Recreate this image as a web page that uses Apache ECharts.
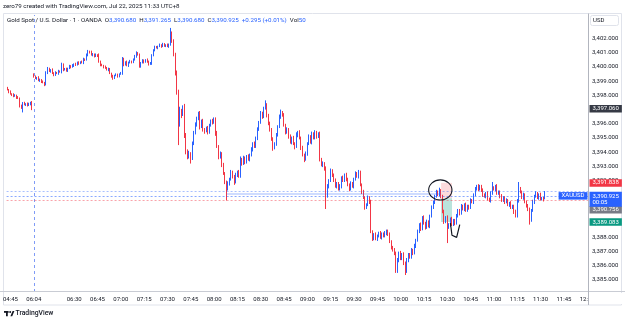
<!DOCTYPE html>
<html>
<head>
<meta charset="utf-8">
<title>XAUUSD 1m</title>
<script src="https://cdn.jsdelivr.net/npm/echarts@6.0.0/dist/echarts.min.js"></script>
<style>
  html, body { margin: 0; padding: 0; background: #fff; }
  #main { width: 625px; height: 322px; }
</style>
</head>
<body>
<div id="main"></div>
<script type="text/javascript">
var FONT = 'Roboto, "Noto Sans", sans-serif';

// time axis: bars before the daily break, then the session from 06:04
function toMin(s) { var p = s.split(':'); return +p[0] * 60 + +p[1]; }
function pad(n) { return (n < 10 ? '0' : '') + n; }
function minuteRange(a, b) {
    var out = [];
    for (var t = toMin(a); t <= toMin(b); t++) out.push(pad(Math.floor(t / 60)) + ':' + pad(t % 60));
    return out;
}
var categories = minuteRange('04:43', '04:59').concat(minuteRange('06:04', '12:00'));
var sessionStart = '06:04';

var timeTicks = ['04:45', '06:04', '06:30', '06:45', '07:00', '07:15', '07:30', '07:45', '08:00', '08:15',
    '08:30', '08:45', '09:00', '09:15', '09:30', '09:45', '10:00', '10:15', '10:30', '10:45',
    '11:00', '11:15', '11:30', '11:45', '12:00'];
var priceTicks = [3385, 3386, 3387, 3388, 3389, 3390, 3391, 3392, 3393, 3394,
    3395, 3396, 3397, 3398, 3399, 3400, 3401, 3402];

// 1 minute bars, 04:43 .. 11:33
var opens = [
    3398.50, 3398.40, 3398.25, 3398.10, 3398.05, 3397.95, 3398.00, 3397.85, 3397.80, 3397.25,
    3397.20, 3397.45, 3397.35, 3397.40, 3397.30, 3397.40, 3397.50, 3399.45, 3399.30, 3399.20,
    3399.25, 3399.05, 3399.10, 3398.95, 3398.90, 3398.75, 3399.60, 3399.85, 3399.70, 3399.80,
    3399.55, 3399.45, 3399.60, 3399.55, 3399.70, 3399.65, 3400.15, 3399.80, 3399.85, 3399.75,
    3399.90, 3400.05, 3400.00, 3400.10, 3400.20, 3400.15, 3400.30, 3400.25, 3400.35, 3400.30,
    3400.55, 3400.50, 3400.85, 3401.10, 3401.05, 3400.85, 3400.90, 3400.75, 3400.85, 3400.80,
    3400.35, 3400.15, 3400.10, 3400.00, 3399.95, 3399.80, 3399.85, 3399.55, 3399.35, 3399.25,
    3399.40, 3399.45, 3399.35, 3399.50, 3399.55, 3400.55, 3400.20, 3400.35, 3400.10, 3400.30,
    3400.40, 3400.35, 3400.50, 3400.75, 3400.95, 3400.85, 3400.05, 3400.30, 3400.45, 3400.35,
    3400.50, 3400.40, 3400.20, 3400.25, 3400.80, 3401.20, 3401.40, 3401.35, 3401.45, 3401.55,
    3401.45, 3401.60, 3401.50, 3401.55, 3401.45, 3401.60, 3402.30, 3401.80, 3400.90, 3399.60,
    3398.20, 3396.00, 3396.90, 3396.70, 3397.10, 3395.20, 3394.10, 3393.70, 3393.90, 3393.60,
    3394.60, 3395.40, 3395.90, 3396.40, 3396.70, 3395.80, 3396.20, 3395.60, 3395.50, 3395.70,
    3395.40, 3395.90, 3396.20, 3396.10, 3396.35, 3395.30, 3394.40, 3393.70, 3393.90, 3393.10,
    3392.50, 3391.90, 3391.40, 3391.80, 3392.10, 3392.60, 3392.30, 3391.90, 3392.40, 3392.60,
    3392.30, 3393.50, 3393.20, 3393.60, 3393.30, 3393.70, 3393.50, 3393.80, 3394.20, 3394.60,
    3394.40, 3395.00, 3395.60, 3396.10, 3396.70, 3396.50, 3397.10, 3397.30, 3396.60, 3396.00,
    3395.60, 3394.90, 3394.30, 3394.60, 3395.20, 3395.80, 3396.50, 3396.80, 3396.60, 3395.90,
    3395.40, 3395.60, 3395.10, 3394.70, 3395.00, 3394.60, 3394.40, 3395.20, 3395.40, 3395.00,
    3394.30, 3393.80, 3393.50, 3393.90, 3394.60, 3395.10, 3394.70, 3395.30, 3395.00, 3395.40,
    3395.10, 3395.30, 3393.50, 3393.10, 3393.20, 3392.80, 3390.90, 3391.60, 3392.00, 3392.70,
    3392.40, 3392.00, 3391.60, 3391.80, 3391.40, 3391.60, 3392.20, 3392.00, 3392.40, 3392.10,
    3391.70, 3391.40, 3391.80, 3391.60, 3392.10, 3392.50, 3392.30, 3392.60, 3391.70, 3391.20,
    3390.80, 3390.10, 3390.30, 3390.80, 3390.50, 3388.40, 3387.90, 3388.20, 3387.90, 3388.10,
    3388.30, 3388.00, 3388.25, 3388.10, 3388.30, 3388.45, 3388.20, 3387.70, 3387.30, 3387.10,
    3386.90, 3385.60, 3386.40, 3386.90, 3386.50, 3386.80, 3386.20, 3385.60, 3386.40, 3386.80,
    3386.60, 3387.10, 3386.90, 3387.40, 3387.80, 3388.40, 3388.90, 3388.60, 3389.40, 3389.00,
    3388.70, 3389.10, 3388.80, 3389.50, 3390.10, 3390.50, 3390.90, 3391.20, 3391.00, 3391.25,
    3390.90, 3389.80, 3389.10, 3389.40, 3388.70, 3388.90, 3389.30, 3388.90, 3389.20, 3389.00,
    3389.50, 3389.90, 3389.70, 3390.20, 3390.00, 3390.30, 3389.90, 3390.20, 3390.10, 3390.60,
    3390.50, 3391.00, 3391.40, 3391.60, 3391.40, 3391.60, 3391.30, 3391.00, 3390.90, 3391.10,
    3390.70, 3390.60, 3391.10, 3391.50, 3391.40, 3391.60, 3391.10, 3391.20, 3390.90, 3390.60,
    3390.80, 3390.50, 3390.60, 3390.30, 3390.40, 3390.10, 3390.20, 3389.80, 3389.50, 3390.60,
    3391.40, 3391.20, 3390.80, 3391.00, 3390.50, 3390.20, 3390.00, 3389.20, 3389.90, 3390.50,
    3390.90, 3391.10, 3390.80, 3391.00, 3390.70, 3390.75, 3390.68
];
var closes = [
    3398.40, 3398.25, 3398.10, 3398.05, 3397.95, 3398.00, 3397.85, 3397.80, 3397.25, 3397.20,
    3397.45, 3397.35, 3397.40, 3397.30, 3397.40, 3397.50, 3397.06, 3399.30, 3399.20, 3399.25,
    3399.05, 3399.10, 3398.95, 3398.90, 3398.75, 3399.60, 3399.85, 3399.70, 3399.80, 3399.55,
    3399.45, 3399.60, 3399.55, 3399.70, 3399.65, 3400.15, 3399.80, 3399.85, 3399.75, 3399.90,
    3400.05, 3400.00, 3400.10, 3400.20, 3400.15, 3400.30, 3400.25, 3400.35, 3400.30, 3400.55,
    3400.50, 3400.85, 3401.10, 3401.05, 3400.85, 3400.90, 3400.75, 3400.85, 3400.80, 3400.35,
    3400.15, 3400.10, 3400.00, 3399.95, 3399.80, 3399.85, 3399.55, 3399.35, 3399.25, 3399.40,
    3399.45, 3399.35, 3399.50, 3399.55, 3400.55, 3400.20, 3400.35, 3400.10, 3400.30, 3400.40,
    3400.35, 3400.50, 3400.75, 3400.95, 3400.85, 3400.05, 3400.30, 3400.45, 3400.35, 3400.50,
    3400.40, 3400.20, 3400.25, 3400.80, 3401.20, 3401.40, 3401.35, 3401.45, 3401.55, 3401.45,
    3401.60, 3401.50, 3401.55, 3401.45, 3401.60, 3402.30, 3401.80, 3400.90, 3399.60, 3398.20,
    3396.00, 3396.90, 3396.70, 3397.10, 3395.20, 3394.10, 3393.70, 3393.90, 3393.60, 3394.60,
    3395.40, 3395.90, 3396.40, 3396.70, 3395.80, 3396.20, 3395.60, 3395.50, 3395.70, 3395.40,
    3395.90, 3396.20, 3396.10, 3396.35, 3395.30, 3394.40, 3393.70, 3393.90, 3393.10, 3392.50,
    3391.90, 3391.40, 3391.80, 3392.10, 3392.60, 3392.30, 3391.90, 3392.40, 3392.60, 3392.30,
    3393.50, 3393.20, 3393.60, 3393.30, 3393.70, 3393.50, 3393.80, 3394.20, 3394.60, 3394.40,
    3395.00, 3395.60, 3396.10, 3396.70, 3396.50, 3397.10, 3397.30, 3396.60, 3396.00, 3395.60,
    3394.90, 3394.30, 3394.60, 3395.20, 3395.80, 3396.50, 3396.80, 3396.60, 3395.90, 3395.40,
    3395.60, 3395.10, 3394.70, 3395.00, 3394.60, 3394.40, 3395.20, 3395.40, 3395.00, 3394.30,
    3393.80, 3393.50, 3393.90, 3394.60, 3395.10, 3394.70, 3395.30, 3395.00, 3395.40, 3395.10,
    3395.30, 3393.50, 3393.10, 3393.20, 3392.80, 3390.90, 3391.60, 3392.00, 3392.70, 3392.40,
    3392.00, 3391.60, 3391.80, 3391.40, 3391.60, 3392.20, 3392.00, 3392.40, 3392.10, 3391.70,
    3391.40, 3391.80, 3391.60, 3392.10, 3392.50, 3392.30, 3392.60, 3391.70, 3391.20, 3390.80,
    3390.10, 3390.30, 3390.80, 3390.50, 3388.40, 3387.90, 3388.20, 3387.90, 3388.10, 3388.30,
    3388.00, 3388.25, 3388.10, 3388.30, 3388.45, 3388.20, 3387.70, 3387.30, 3387.10, 3386.90,
    3385.60, 3386.40, 3386.90, 3386.50, 3386.80, 3386.20, 3385.60, 3386.40, 3386.80, 3386.60,
    3387.10, 3386.90, 3387.40, 3387.80, 3388.40, 3388.90, 3388.60, 3389.40, 3389.00, 3388.70,
    3389.10, 3388.80, 3389.50, 3390.10, 3390.50, 3390.90, 3391.20, 3391.00, 3391.25, 3390.90,
    3389.80, 3389.10, 3389.40, 3388.70, 3388.90, 3389.30, 3388.90, 3389.20, 3389.00, 3389.50,
    3389.90, 3389.70, 3390.20, 3390.00, 3390.30, 3389.90, 3390.20, 3390.10, 3390.60, 3390.50,
    3391.00, 3391.40, 3391.60, 3391.40, 3391.60, 3391.30, 3391.00, 3390.90, 3391.10, 3390.70,
    3390.60, 3391.10, 3391.50, 3391.40, 3391.60, 3391.10, 3391.20, 3390.90, 3390.60, 3390.80,
    3390.50, 3390.60, 3390.30, 3390.40, 3390.10, 3390.20, 3389.80, 3389.50, 3390.60, 3391.40,
    3391.20, 3390.80, 3391.00, 3390.50, 3390.20, 3390.00, 3389.20, 3389.90, 3390.50, 3390.90,
    3391.10, 3390.80, 3391.00, 3390.70, 3390.75, 3390.63, 3390.925
];
// wick lengths above / below the body
var upWick = [
    0.10, 0.05, 0.10, 0.05, 0.10, 0.08, 0.05, 0.10, 0.05, 0.10,
    0.08, 0.10, 0.05, 0.10, 0.08, 0.05, 0.10, 0.10, 0.10, 0.05,
    0.10, 0.08, 0.05, 0.10, 0.05, 0.10, 0.15, 0.10, 0.05, 0.10,
    0.08, 0.10, 0.05, 0.10, 0.05, 0.15, 0.10, 0.08, 0.10, 0.05,
    0.10, 0.08, 0.10, 0.05, 0.10, 0.08, 0.10, 0.05, 0.10, 0.10,
    0.05, 0.10, 0.10, 0.05, 0.10, 0.08, 0.05, 0.10, 0.05, 0.15,
    0.10, 0.08, 0.05, 0.10, 0.05, 0.10, 0.08, 0.05, 0.10, 0.05,
    0.10, 0.08, 0.05, 0.10, 0.15, 0.10, 0.05, 0.10, 0.08, 0.10,
    0.05, 0.10, 0.10, 0.15, 0.10, 0.10, 0.05, 0.10, 0.08, 0.05,
    0.10, 0.05, 0.10, 0.10, 0.05, 0.10, 0.08, 0.05, 0.10, 0.05,
    0.10, 0.08, 0.05, 0.10, 0.05, 0.45, 0.20, 0.15, 0.10, 0.15,
    0.20, 0.30, 0.15, 0.20, 0.30, 0.15, 0.10, 0.20, 0.10, 0.15,
    0.10, 0.20, 0.10, 0.15, 0.20, 0.10, 0.15, 0.10, 0.10, 0.15,
    0.10, 0.10, 0.15, 0.10, 0.10, 0.20, 0.10, 0.15, 0.10, 0.15,
    0.10, 0.10, 0.15, 0.10, 0.15, 0.10, 0.10, 0.15, 0.10, 0.15,
    0.20, 0.10, 0.15, 0.10, 0.10, 0.15, 0.10, 0.15, 0.10, 0.15,
    0.10, 0.15, 0.10, 0.20, 0.15, 0.10, 0.35, 0.15, 0.10, 0.15,
    0.10, 0.15, 0.10, 0.15, 0.10, 0.15, 0.20, 0.10, 0.15, 0.10,
    0.15, 0.10, 0.15, 0.10, 0.15, 0.10, 0.20, 0.10, 0.15, 0.10,
    0.15, 0.10, 0.15, 0.10, 0.15, 0.10, 0.15, 0.10, 0.15, 0.10,
    0.10, 0.15, 0.10, 0.15, 0.10, 0.20, 0.15, 0.10, 0.15, 0.10,
    0.10, 0.15, 0.10, 0.10, 0.15, 0.10, 0.15, 0.10, 0.15, 0.10,
    0.10, 0.15, 0.10, 0.10, 0.15, 0.10, 0.15, 0.10, 0.10, 0.15,
    0.10, 0.10, 0.15, 0.10, 0.15, 0.10, 0.10, 0.15, 0.10, 0.10,
    0.15, 0.10, 0.10, 0.15, 0.10, 0.10, 0.15, 0.10, 0.10, 0.15,
    0.10, 0.15, 0.10, 0.15, 0.10, 0.15, 0.10, 0.15, 0.10, 0.10,
    0.15, 0.10, 0.15, 0.10, 0.15, 0.10, 0.15, 0.10, 0.15, 0.10,
    0.15, 0.10, 0.10, 0.15, 0.10, 0.10, 0.15, 0.10, 0.25, 0.15,
    0.10, 0.15, 0.10, 0.15, 0.10, 0.10, 0.15, 0.10, 0.10, 0.15,
    0.10, 0.10, 0.15, 0.10, 0.10, 0.15, 0.10, 0.10, 0.15, 0.10,
    0.10, 0.15, 0.10, 0.15, 0.10, 0.10, 0.15, 0.10, 0.10, 0.15,
    0.10, 0.15, 0.40, 0.10, 0.10, 0.15, 0.10, 0.10, 0.15, 0.10,
    0.10, 0.15, 0.10, 0.10, 0.15, 0.10, 0.10, 0.15, 0.10, 0.50,
    0.15, 0.10, 0.15, 0.10, 0.10, 0.15, 0.10, 0.10, 0.15, 0.10,
    0.15, 0.10, 0.10, 0.15, 0.10, 0.10, 0.34
];
var downWick = [
    0.05, 0.10, 0.05, 0.10, 0.08, 0.05, 0.10, 0.05, 0.10, 0.15,
    0.40, 0.05, 0.10, 0.08, 0.05, 0.10, 0.10, 0.05, 0.05, 0.10,
    0.05, 0.10, 0.08, 0.05, 0.10, 0.05, 0.10, 0.05, 0.10, 0.05,
    0.10, 0.08, 0.05, 0.10, 0.05, 0.10, 0.10, 0.05, 0.08, 0.10,
    0.05, 0.10, 0.05, 0.10, 0.08, 0.05, 0.10, 0.05, 0.05, 0.10,
    0.08, 0.05, 0.10, 0.10, 0.05, 0.10, 0.08, 0.05, 0.10, 0.05,
    0.10, 0.05, 0.10, 0.08, 0.05, 0.10, 0.05, 0.10, 0.15, 0.10,
    0.05, 0.10, 0.08, 0.05, 0.10, 0.15, 0.10, 0.05, 0.10, 0.05,
    0.10, 0.08, 0.05, 0.10, 0.05, 0.10, 0.10, 0.05, 0.10, 0.05,
    0.10, 0.10, 0.05, 0.10, 0.05, 0.10, 0.05, 0.10, 0.05, 0.10,
    0.05, 0.08, 0.10, 0.05, 0.10, 0.10, 0.10, 0.15, 0.20, 0.15,
    1.50, 0.20, 0.30, 0.15, 0.20, 0.25, 0.20, 0.15, 0.40, 0.15,
    0.10, 0.15, 0.10, 0.15, 0.20, 0.10, 0.15, 0.20, 0.10, 0.15,
    0.10, 0.10, 0.15, 0.10, 0.15, 0.10, 0.20, 0.15, 0.15, 0.10,
    0.15, 0.80, 0.10, 0.15, 0.10, 0.15, 0.20, 0.10, 0.15, 0.10,
    0.10, 0.15, 0.10, 0.15, 0.10, 0.10, 0.15, 0.10, 0.15, 0.10,
    0.10, 0.15, 0.10, 0.10, 0.15, 0.10, 0.10, 0.15, 0.10, 0.15,
    0.10, 0.20, 0.10, 0.15, 0.10, 0.10, 0.15, 0.10, 0.10, 0.15,
    0.10, 0.15, 0.10, 0.15, 0.10, 0.20, 0.10, 0.15, 0.10, 0.15,
    0.10, 0.20, 0.10, 0.15, 0.10, 0.10, 0.15, 0.10, 0.10, 0.15,
    0.10, 0.15, 0.10, 0.15, 0.10, 0.90, 0.10, 0.15, 0.10, 0.15,
    0.10, 0.10, 0.15, 0.10, 0.10, 0.15, 0.10, 0.10, 0.15, 0.10,
    0.15, 0.10, 0.10, 0.15, 0.10, 0.10, 0.15, 0.10, 0.15, 0.10,
    0.15, 0.10, 0.10, 0.15, 0.10, 0.15, 0.10, 0.10, 0.15, 0.10,
    0.10, 0.15, 0.10, 0.10, 0.15, 0.10, 0.10, 0.15, 0.10, 0.15,
    0.10, 0.10, 0.15, 0.10, 0.10, 0.15, 0.25, 0.10, 0.15, 0.10,
    0.10, 0.15, 0.10, 0.15, 0.10, 0.10, 0.15, 0.10, 0.10, 0.15,
    0.10, 0.10, 0.15, 0.10, 0.10, 0.15, 0.10, 0.10, 0.10, 0.15,
    0.10, 0.15, 0.10, 1.10, 0.10, 0.15, 0.10, 0.10, 0.15, 0.10,
    0.10, 0.15, 0.10, 0.10, 0.15, 0.10, 0.10, 0.15, 0.10, 0.10,
    0.15, 0.10, 0.10, 0.15, 0.10, 0.10, 0.15, 0.10, 0.15, 0.10,
    0.10, 0.15, 0.10, 0.10, 0.15, 0.10, 0.10, 0.15, 0.10, 0.10,
    0.15, 0.10, 0.10, 0.15, 0.10, 0.10, 0.15, 0.10, 0.10, 0.15,
    0.10, 0.10, 0.15, 0.10, 0.10, 0.15, 0.30, 0.10, 0.10, 0.15,
    0.10, 0.10, 0.15, 0.10, 0.10, 0.10, 0.00
];
var lastVolume = 50;

// levels and drawings on the chart
var askLevel = 3391.22;
var prevCloseLevel = 3390.63;
var rayLevel = 3391.10, rayFrom = '08:08', rayTo = '10:26';
var sessionCloseLevel = 3397.060;
var shortEntry = 3390.756, shortStop = 3391.838, shortTarget = 3389.083;
var positionFrom = '10:26', positionTo = '10:33';
var sketchTimes = ['10:32', '10:33', '10:36', '10:38'];
var sketchPrices = [3389.0, 3388.15, 3388.0, 3388.9];
var ringTimes = ['10:18', '10:33'];
var ringPrices = [3392.05, 3390.63];

var UP = '#2962ff', DOWN = '#f23645';

var candles = opens.map(function (o, i) {
    var c = closes[i];
    return [o, c, Math.min(o, c) - downWick[i], Math.max(o, c) + upWick[i]];
});
var n = candles.length;
var last = candles[n - 1];
var lastClose = closes[n - 1];
var change = lastClose - closes[n - 2];

function fmt(v, d) {
    var s = v.toFixed(d).split('.');
    s[0] = s[0].replace(/\B(?=(\d{3})+(?!\d))/g, ',');
    return s.join('.');
}

var legendText = '{n|Gold Spot / U.S. Dollar · 1 · OANDA}  ' +
    '{k|O}{v|' + fmt(last[0], 3) + '}  {k|H}{v|' + fmt(last[3], 3) + '}  ' +
    '{k|L}{v|' + fmt(last[2], 3) + '}  {k|C}{v|' + fmt(last[1], 3) + '}  ' +
    '{v|' + (change >= 0 ? '+' : '') + change.toFixed(3) + ' (' + (change >= 0 ? '+' : '') +
    (change / closes[n - 2] * 100).toFixed(2) + '%)}  {k|Vol}{v|' + lastVolume + '}';

var chart = echarts.init(document.getElementById('main'));

var option = {
    animation: false,
    backgroundColor: '#ffffff',
    title: {
        left: 7, top: 17, padding: 0,
        text: legendText,
        textStyle: {
            fontSize: 6.2, fontFamily: FONT, fontWeight: 'normal',
            rich: {
                n: { fontSize: 6.2, fontFamily: FONT, color: '#131722' },
                k: { fontSize: 6.2, fontFamily: FONT, color: '#131722' },
                v: { fontSize: 6.2, fontFamily: FONT, color: UP }
            }
        }
    },
    grid: { left: 4.1, right: 37, top: 15, bottom: 30 },
    xAxis: {
        type: 'category',
        data: categories,
        boundaryGap: true,
        axisLine: { show: false },
        axisTick: { show: false },
        splitLine: { show: false },
        axisLabel: {
            interval: function (idx, val) { return timeTicks.indexOf(val) >= 0; },
            color: '#131722', fontSize: 6, fontFamily: FONT, margin: 4
        }
    },
    yAxis: {
        type: 'value',
        position: 'right',
        min: 3384.155,
        max: 3403.66,
        axisLine: { show: false },
        axisTick: { show: false },
        splitLine: { show: false },
        axisLabel: {
            customValues: priceTicks,
            formatter: function (v) { return fmt(v, 3); },
            color: '#131722', fontSize: 6, fontFamily: FONT, margin: 4
        }
    },
    series: [{
        type: 'candlestick',
        name: 'XAUUSD',
        data: candles,
        barWidth: 0.9,
        itemStyle: {
            color: UP, color0: DOWN,
            borderColor: UP, borderColor0: DOWN,
            borderWidth: 1
        },
        markLine: {
            silent: true, symbol: ['none', 'none'], label: { show: false },
            data: [
                { xAxis: sessionStart, lineStyle: { color: '#7f9bf6', type: [3, 3], width: 1 } },
                { yAxis: askLevel, lineStyle: { color: UP, opacity: 0.4, type: [2, 2], width: 1 } },
                { yAxis: lastClose, lineStyle: { color: UP, opacity: 0.55, type: [2, 2], width: 1 } },
                { yAxis: prevCloseLevel, lineStyle: { color: DOWN, opacity: 0.45, type: [2, 2], width: 1 } },
                [{ xAxis: rayFrom, yAxis: rayLevel, lineStyle: { color: UP, opacity: 0.3, type: 'solid', width: 1.5 } },
                 { xAxis: rayTo, yAxis: rayLevel }]
            ]
        },
        markArea: {
            silent: true,
            data: [
                [{ xAxis: positionFrom, yAxis: shortStop, itemStyle: { color: 'rgba(242,54,69,0.18)' } },
                 { xAxis: positionTo, yAxis: shortEntry }],
                [{ xAxis: positionFrom, yAxis: shortEntry, itemStyle: { color: 'rgba(8,153,129,0.28)' } },
                 { xAxis: positionTo, yAxis: shortTarget }]
            ]
        }
    }, {
        type: 'line',
        name: 'sketch',
        silent: true,
        symbol: 'none',
        data: sketchTimes.map(function (t, i) { return [t, sketchPrices[i]]; }),
        lineStyle: { color: '#131722', width: 1.2 },
        z: 5
    }]
};
chart.setOption(option);

// overlays that follow the axes: price badges, ring, frame
function py(p) { return chart.convertToPixel({ yAxisIndex: 0 }, p); }
function badge(p, text, bg, dy) {
    return {
        type: 'text', z: 100, x: 589.5, y: py(p) + (dy || 0),
        style: {
            text: text, font: '6px ' + FONT, fill: '#ffffff', backgroundColor: bg,
            padding: [1, 3, 0.5, 3], align: 'left', textAlign: 'left',
            verticalAlign: 'middle', textVerticalAlign: 'middle'
        }
    };
}
var r0 = chart.convertToPixel({ xAxisIndex: 0, yAxisIndex: 0 }, [categories.indexOf(ringTimes[0]), ringPrices[0]]);
var r1 = chart.convertToPixel({ xAxisIndex: 0, yAxisIndex: 0 }, [categories.indexOf(ringTimes[1]), ringPrices[1]]);

var graphics = [
    { type: 'rect', z: 0, silent: true, shape: { x: 3.5, y: 13.5, width: 618, height: 291.5 },
      style: { fill: 'none', stroke: '#e0e3eb', lineWidth: 1 } },
    { type: 'rect', z: 90, shape: { x: 588.5, y: 293, width: 36, height: 11 }, style: { fill: '#ffffff' } },
    { type: 'line', z: 95, shape: { x1: 0, y1: 291.5, x2: 625, y2: 291.5 }, style: { stroke: '#c9ccd4', lineWidth: 1 } },
    { type: 'line', z: 95, shape: { x1: 588.5, y1: 13.5, x2: 588.5, y2: 305 }, style: { stroke: '#b2b5be', lineWidth: 1 } },
    { type: 'text', z: 100, x: 3, y: 6.5,
      style: { text: 'zero79 created with TradingView.com, Jul 22, 2025 11:33 UTC+8', font: '6.2px ' + FONT,
               fill: '#131722', verticalAlign: 'middle', textVerticalAlign: 'middle' } },
    { type: 'rect', z: 100, shape: { x: 590.5, y: 15.5, width: 28, height: 10, r: 2 },
      style: { fill: '#ffffff', stroke: '#e0e3eb', lineWidth: 1 } },
    { type: 'text', z: 101, x: 593, y: 20.8,
      style: { text: 'USD', font: '6px ' + FONT, fill: '#131722', verticalAlign: 'middle', textVerticalAlign: 'middle' } },
    badge(sessionCloseLevel, fmt(sessionCloseLevel, 3), '#363a45'),
    badge(shortStop, fmt(shortStop, 3), DOWN),
    badge(shortEntry, fmt(shortEntry, 3), '#787b86', 11.5),
    badge(shortTarget, fmt(shortTarget, 3), '#089981'),
    {
        type: 'text', z: 102, x: 589.5, y: py(lastClose) - 4,
        style: {
            text: fmt(lastClose, 3) + '\n00:05', font: '6px ' + FONT, fill: '#ffffff', backgroundColor: UP,
            lineHeight: 6.5, padding: [1, 3, 1, 3], align: 'left', textAlign: 'left',
            verticalAlign: 'top', textVerticalAlign: 'top'
        }
    },
    {
        type: 'text', z: 102, x: 587.5, y: py(lastClose),
        style: {
            text: 'XAUUSD', font: '6px ' + FONT, fill: '#ffffff', backgroundColor: UP,
            padding: [1, 3, 0.5, 3], align: 'right', textAlign: 'right',
            verticalAlign: 'middle', textVerticalAlign: 'middle'
        }
    },
    {
        type: 'ellipse', z: 60, silent: true,
        shape: { cx: (r0[0] + r1[0]) / 2, cy: (r0[1] + r1[1]) / 2,
                 rx: Math.abs(r1[0] - r0[0]) / 2, ry: Math.abs(r1[1] - r0[1]) / 2 },
        style: { fill: 'none', stroke: '#131722', lineWidth: 1.1 }
    },
    // TradingView mark
    { type: 'rect', z: 100, shape: { x: 4, y: 311, width: 4.6, height: 1.8 }, style: { fill: '#131722' } },
    { type: 'rect', z: 100, shape: { x: 6, y: 311, width: 1.8, height: 5.2 }, style: { fill: '#131722' } },
    { type: 'circle', z: 100, shape: { cx: 10.2, cy: 312, r: 1 }, style: { fill: '#131722' } },
    { type: 'polygon', z: 100, shape: { points: [[10.4, 316.2], [12.6, 311], [14.4, 311], [12.2, 316.2]] }, style: { fill: '#131722' } },
    { type: 'text', z: 100, x: 15.5, y: 313.8,
      style: { text: 'TradingView', font: '500 6.8px ' + FONT, fill: '#131722', verticalAlign: 'middle', textVerticalAlign: 'middle' } }
];
chart.setOption({ graphic: graphics });
</script>
</body>
</html>
